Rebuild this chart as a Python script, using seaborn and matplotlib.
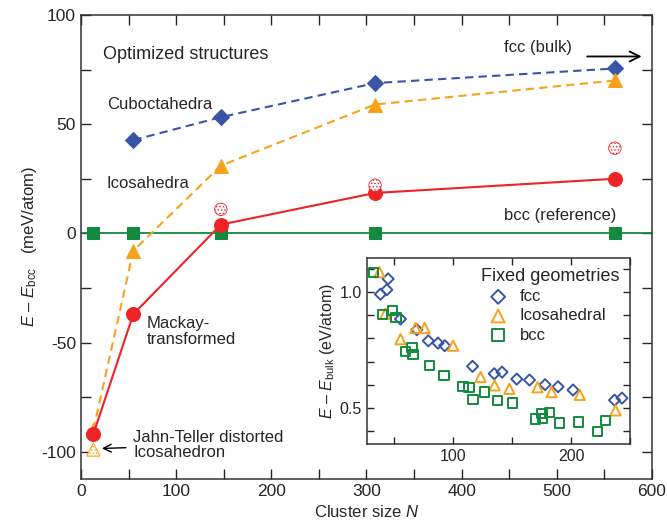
import seaborn as sns
import pandas as pd
import matplotlib.pyplot as plt

# main panel: optimized structures
n_sizes = [13, 55, 147, 309, 561]
cubo = [42.7, 53.2, 68.8, 75.5]          # N = 55..561
icosa = [-90, -8, 31, 59, 70]
mackay = [-92, -37, 4, 18.5, 25]
bcc_ref = [0, 0, 0, 0, 0]
dotted_n = [147, 309, 561]
dotted_e = [11, 22, 39]
jt_n = [13]
jt_e = [-99]

# inset: fixed geometries
fcc_n = [38.4, 43.8, 44.9, 55.4, 69.3, 79, 87.2, 92.9, 116.5, 134.9, 141.5, 154,
         164.8, 178, 189, 201.7, 236.9, 243.2]
fcc_e = [0.991, 1.010, 1.057, 0.884, 0.838, 0.790, 0.780, 0.769, 0.680, 0.648, 0.655,
         0.625, 0.621, 0.601, 0.592, 0.578, 0.534, 0.543]
ico_n = [37.5, 42.6, 55.4, 68.2, 75.9, 100, 123.3, 135.2, 147.7, 171.6, 183.5, 207.4, 237.8]
ico_e = [1.086, 0.907, 0.797, 0.845, 0.845, 0.769, 0.634, 0.598, 0.583, 0.590, 0.569,
         0.557, 0.490]
bcc_n = [32.4, 40.3, 48.9, 51.7, 59.7, 65.1, 65.9, 80.1, 92.3, 108.5, 113.6, 117, 126.4,
         137.8, 150.3, 169.9, 175.3, 175.9, 181.5, 190.3, 206.3, 222.2, 229.3]
bcc_e = [1.086, 0.902, 0.920, 0.891, 0.744, 0.761, 0.730, 0.684, 0.641, 0.593, 0.590,
         0.536, 0.569, 0.532, 0.522, 0.453, 0.476, 0.454, 0.480, 0.435, 0.440, 0.399, 0.447]

blue = '#3a55a6'
orange = '#f8a21c'
red = '#ee2326'
green = '#138a3e'

sns.set_style('ticks')
plt.rcParams['font.family'] = ['Liberation Sans', 'DejaVu Sans']
plt.rcParams['mathtext.fontset'] = 'custom'
plt.rcParams['mathtext.it'] = 'Liberation Sans:italic'
plt.rcParams['mathtext.rm'] = 'Liberation Sans'
plt.rcParams['hatch.linewidth'] = 0.6
plt.rcParams['axes.unicode_minus'] = False

fig = plt.figure(figsize=(6.67, 5.31), dpi=100)
ax = fig.add_axes([0.1214, 0.0979, 0.8561, 0.8739])

ax.axhline(0, color=green, lw=1.3, zorder=1)
sns.lineplot(x=n_sizes, y=bcc_ref, ax=ax, color=green, lw=0, marker='s',
             markersize=8, markeredgecolor=green, zorder=3)
sns.lineplot(x=n_sizes[1:], y=cubo, ax=ax, color=blue, lw=1.5, ls=(0, (4, 2.5)),
             marker='D', markersize=8, markeredgecolor=blue, zorder=3)
sns.lineplot(x=n_sizes, y=icosa, ax=ax, color=orange, lw=1.5, ls=(0, (4, 2.5)),
             marker='^', markersize=10, markeredgecolor=orange, zorder=3)
sns.lineplot(x=n_sizes, y=mackay, ax=ax, color=red, lw=1.5,
             marker='o', markersize=10, markeredgecolor=red, zorder=4)
ax.scatter(dotted_n, dotted_e, s=80, facecolor='white', edgecolor=red, hatch='.....',
           lw=0.6, zorder=4)
ax.scatter(jt_n, jt_e, s=90, marker='^', facecolor='white', edgecolor=orange,
           hatch='.....', lw=0.8, zorder=4)

ax.set_xlim(0, 600)
ax.set_ylim(-112.5, 100)
ax.set_xticks([0, 100, 200, 300, 400, 500, 600])
ax.set_xticks(range(50, 600, 100), minor=True)
ax.set_yticks([-100, -50, 0, 50, 100])
ax.set_yticks([-75, -25, 25, 75], minor=True)
ax.tick_params(direction='in', which='both', top=True, right=True, labelsize=12.5,
               length=7, width=1)
for s in ax.spines.values():
    s.set_linewidth(1.1)
    s.set_color('#333333')
ax.set_xlabel('Cluster size $\\mathit{N}$', fontsize=12, labelpad=4)
ax.set_ylabel('$\\mathit{E}$ – $\\mathit{E}_{\\rm bcc}$   (meV/atom)', fontsize=12,
              labelpad=2)

ax.text(23, 82, 'Optimized structures', fontsize=13, va='center')
ax.text(27, 59, 'Cuboctahedra', fontsize=12, va='center')
ax.text(27, 23, 'Icosahedra', fontsize=12, va='center')
ax.text(69, -45, 'Mackay-\ntransformed', fontsize=12, va='center', linespacing=1.05)
ax.text(563, 8, 'bcc (reference)', fontsize=12, va='center', ha='right')
ax.text(480, 85, 'fcc (bulk)', fontsize=12, va='center', ha='center')
ax.annotate('', xy=(592, 81), xytext=(529, 81),
            arrowprops=dict(arrowstyle='->', color='black', lw=1.3, mutation_scale=18))
ax.annotate('Jahn-Teller distorted\nIcosahedron', xy=(22, -98.5), xytext=(55, -97),
            fontsize=12, va='center', linespacing=1.0,
            arrowprops=dict(arrowstyle='->', color='black', lw=1, mutation_scale=14,
                            shrinkB=0, shrinkA=3))

# inset
ins = fig.add_axes([0.5502, 0.1638, 0.3943, 0.3503])
inset_df = pd.DataFrame({
    'N': fcc_n + ico_n + bcc_n,
    'E': fcc_e + ico_e + bcc_e,
    'geom': ['fcc'] * len(fcc_n) + ['Icosahedral'] * len(ico_n) + ['bcc'] * len(bcc_n),
})
marks = {'fcc': 'D', 'Icosahedral': '^', 'bcc': 's'}
cols = {'fcc': blue, 'Icosahedral': orange, 'bcc': green}
sizes = {'fcc': 32, 'Icosahedral': 55, 'bcc': 45}
for g in ['fcc', 'Icosahedral', 'bcc']:
    sub = inset_df[inset_df['geom'] == g]
    sns.scatterplot(data=sub, x='N', y='E', ax=ins, marker=marks[g], s=sizes[g],
                    facecolor='none', edgecolor=cols[g], linewidth=1.4, label=g)
ins.set_xlim(27, 250)
ins.set_ylim(0.345, 1.147)
ins.set_xticks([100, 200])
ins.set_xticks([50, 150, 250], minor=True)
ins.set_yticks([0.5, 1.0])
ins.set_yticklabels(['0.5', '1.0'])
ins.set_yticks([0.4, 0.6, 0.7, 0.8, 0.9, 1.1], minor=True)
ins.tick_params(direction='in', which='both', top=True, right=True, labelsize=11.5,
                length=5, width=1)
for s in ins.spines.values():
    s.set_linewidth(1.1)
    s.set_color('#333333')
ins.set_xlabel('')
ins.set_ylabel('$\\mathit{E}$ – $\\mathit{E}_{\\rm bulk}$ (eV/atom)', fontsize=11.5,
               labelpad=2)
leg = ins.legend(title='Fixed geometries', loc='upper right', frameon=False,
                 fontsize=12, title_fontsize=13, handletextpad=0.3, markerscale=1.25,
                 borderaxespad=0.2, labelspacing=0.25)
leg._legend_box.align = 'left'

fig.savefig('out.png', dpi=100)
